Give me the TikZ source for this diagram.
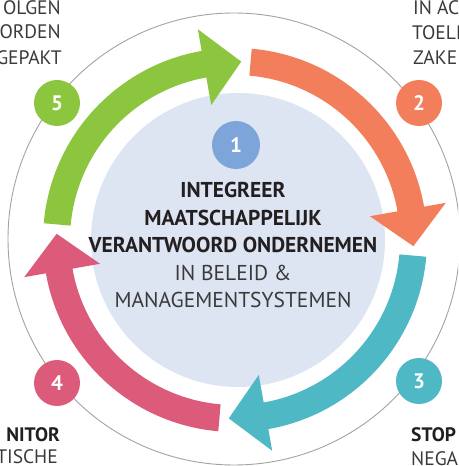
\documentclass[tikz,border=0pt]{standalone}
\usepackage{fontspec}
\setmainfont{PT Sans}
\usetikzlibrary{calc}
\definecolor{cgreen}{HTML}{8CC63F}
\definecolor{corange}{HTML}{F27E5B}
\definecolor{cteal}{HTML}{4FB8C5}
\definecolor{cpink}{HTML}{DC5B7B}
\definecolor{cblue}{HTML}{7EA5DA}
\definecolor{cdisk}{HTML}{DDE5F3}
\definecolor{cring}{HTML}{A3A3A3}
\definecolor{ctext}{HTML}{231F20}
\definecolor{ctextl}{HTML}{3A3A3A}
\tikzset{
  numbox/.style={circle, minimum size=46pt, inner sep=0pt, text=white, font=\fontsize{21}{21}\selectfont\bfseries},
  midbold/.style={anchor=base, text=ctext, font=\fontsize{21.5}{26}\selectfont\bfseries, inner sep=0pt},
  midreg/.style={anchor=base, text=ctextl, font=\fontsize{21.5}{26}\selectfont, inner sep=0pt},
  sidereg/.style={text=ctextl, font=\fontsize{19.5}{24}\selectfont, inner sep=0pt},
  sidebold/.style={text=ctext, font=\fontsize{19.5}{24}\selectfont\bfseries, inner sep=0pt},
}
\newcommand{\cyclearrow}[2]{%
  \fill[#2] ($(ac)+(#1:192)$) arc[start angle=#1, end angle=#1-75, radius=192]
    -- ($(ac)+(#1-75:214)$) -- ($(ac)+(#1-87:178.5)$) -- ($(ac)+(#1-75:137)$)
    -- ($(ac)+(#1-75:165)$) arc[start angle=#1-75, end angle=#1, radius=165] -- cycle;}
\begin{document}
\begin{tikzpicture}[x=1pt,y=1pt]
\useasboundingbox (0,0) rectangle (458,466);
\clip (0,0) rectangle (458,466);
\fill[white] (0,0) rectangle (458,466);
\coordinate (ac) at (235,226);
\coordinate (rc) at (234,227);
\draw[cring, line width=0.9pt] (rc) circle[radius=226];
\fill[cdisk] (238,226) circle[radius=147];
\cyclearrow{175}{cgreen}
\cyclearrow{85}{corange}
\cyclearrow{-5}{cteal}
\cyclearrow{-95}{cpink}
\node[numbox, fill=cblue, minimum size=48pt] (n1) at (236,321) {1};
\node[numbox, fill=corange] (n2) at (419,363) {2};
\node[numbox, fill=cteal] (n3) at (419,85) {3};
\node[numbox, fill=cpink] (n4) at (57,83) {4};
\node[numbox, fill=cgreen] (n5) at (57,363) {5};
\node[midbold] (t1) at (233,268) {INTEGREER};
\node[midbold] (t2) at (233,240.5) {MAATSCHAPPELIJK};
\node[midbold] (t3) at (233,213) {VERANTWOORD ONDERNEMEN};
\node[midreg] (t4) at (233,185.5) {IN BELEID \&};
\node[midreg] (t5) at (233,158) {MANAGEMENTSYSTEMEN};
\node[sidereg, anchor=base east] (a1) at (61,451) {OLGEN};
\node[sidereg, anchor=base east] (a2) at (61,427) {ORDEN};
\node[sidereg, anchor=base east] (a3) at (62,401) {GEPAKT};
\node[sidereg, anchor=base west] (b1) at (413,451) {IN AC};
\node[sidereg, anchor=base west] (b2) at (412,426) {TOELI};
\node[sidereg, anchor=base west] (b3) at (413,401) {ZAKE};
\node[sidebold, anchor=base east] (c1) at (60,24) {NITOR};
\node[sidereg, anchor=base east] (c2) at (58,2) {TISCHE};
\node[sidebold, anchor=base west] (d1) at (411,24) {STOP};
\node[sidereg, anchor=base west] (d2) at (411,0) {NEGA};
\end{tikzpicture}
\end{document}
